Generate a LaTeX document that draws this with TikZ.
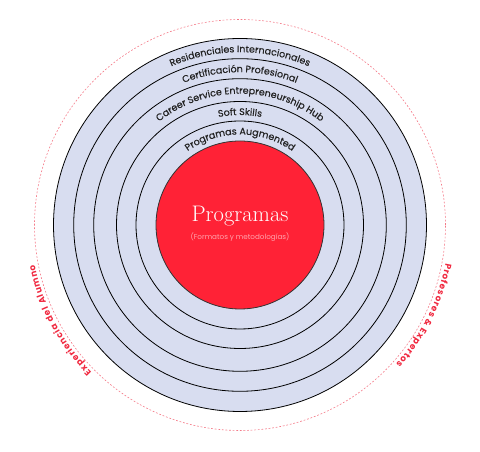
\documentclass[tikz,border=0pt]{standalone}
\usepackage{fontspec}
\newfontfamily\ringfont{Poppins}[FakeBold=0.4]
\newfontfamily\sidefont{Poppins}
\newfontfamily\subfont{Poppins}
\usetikzlibrary{decorations.text}
\definecolor{ringfill}{HTML}{D8DDF0}
\definecolor{core}{HTML}{FF2236}
\definecolor{accent}{HTML}{F0283F}
\definecolor{dashc}{HTML}{F47A88}
\definecolor{subt}{HTML}{FFA3AD}
\definecolor{labelc}{HTML}{222222}
\newcommand{\ringstyle}{\ringfont\fontsize{9.5}{9.5}\selectfont\color{labelc}}
\newcommand{\sidestyle}{\sidefont\bfseries\fontsize{8.8}{8.8}\selectfont\color{accent}\kern0.8pt}
\tikzset{
  ringcircle/.style={fill=ringfill, draw=black, line width=0.8pt},
  corecircle/.style={fill=core, draw=black!80, line width=0.8pt},
  dashring/.style={draw=dashc, line width=0.6pt, dash pattern=on 1.8pt off 1.8pt},
}
\begin{document}
\begin{tikzpicture}[x=1pt,y=1pt]
\useasboundingbox (0,0) rectangle (480,452);
\coordinate (c) at (240,227);
\draw[dashring] (c) circle[radius=205.5];
\foreach \r in {186.5,166.3,146.3,123.5,104}{
  \draw[ringcircle] (c) circle[radius=\r];
}
\draw[corecircle] (c) circle[radius=84];
% ring labels
\path[decorate, decoration={text along path, text align=center,
  text={|\ringstyle|Residenciales Internacionales}}]
  ([shift={(180:172.8)}]c) arc[start angle=180, end angle=0, radius=172.8];
\path[decorate, decoration={text along path, text align=center,
  text={|\ringstyle|Certificación Profesional}}]
  ([shift={(180:152.8)}]c) arc[start angle=180, end angle=0, radius=152.8];
\path[decorate, decoration={text along path, text align=center,
  text={|\ringstyle|Career Service Entrepreneurship Hub}}]
  ([shift={(180:131.3)}]c) arc[start angle=180, end angle=0, radius=131.3];
\path[decorate, decoration={text along path, text align=center,
  text={|\ringstyle|Soft Skills}}]
  ([shift={(180:110)}]c) arc[start angle=180, end angle=0, radius=110];
\path[decorate, decoration={text along path, text align=center,
  text={|\ringstyle|Programas Augmented}}]
  ([shift={(180:90.5)}]c) arc[start angle=180, end angle=0, radius=90.5];
% side labels
\path[decorate, decoration={text along path, text align=center,
  text={|\sidestyle|Experiencia del Alumno}}]
  ([shift={(252:209)}]c) arc[start angle=252, end angle=164, radius=209];
\path[decorate, decoration={text along path, text align=center,
  text={|\sidestyle|Profesores {\&} Expertos}}]
  ([shift={(18.5:209)}]c) arc[start angle=18.5, end angle=-70.5, radius=209];
% centre
\node[anchor=base, text=white, inner sep=0pt, font=\rmfamily\fontsize{22.5}{22.5}\selectfont] (title) at (240,230.3) {Programas};
\node[anchor=base, text=subt, inner sep=0pt, font=\subfont\fontsize{7.2}{7.2}\selectfont] (subtitle) at (240,212.5) {(Formatos y metodologías)};
\end{tikzpicture}
\end{document}
